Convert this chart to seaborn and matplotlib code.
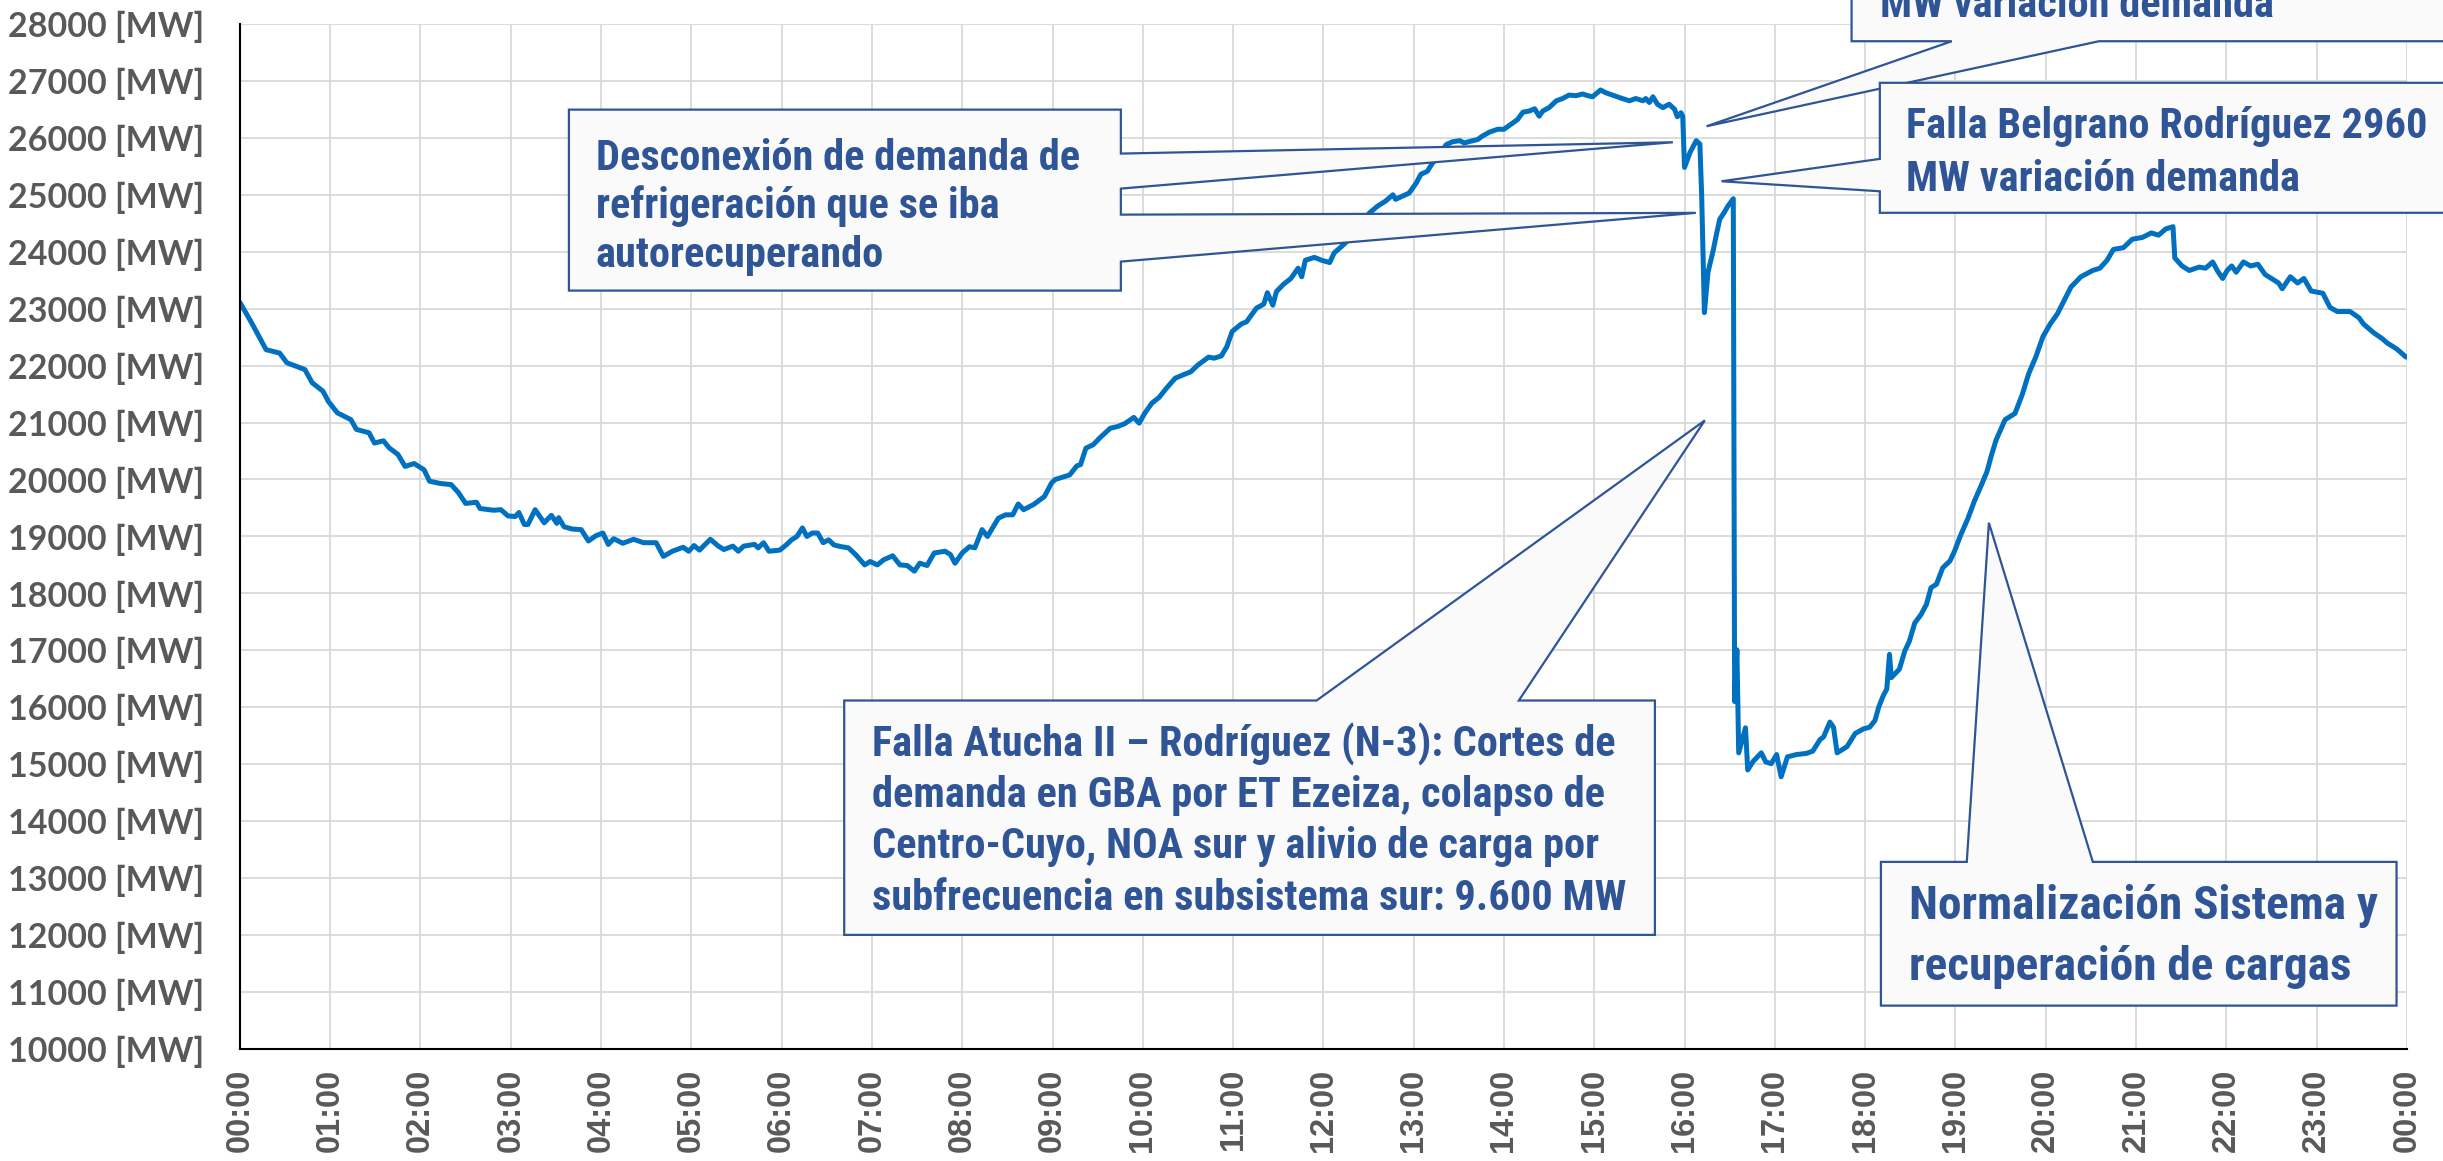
import matplotlib
matplotlib.use("Agg")
import matplotlib.pyplot as plt
import seaborn as sns
from matplotlib.patches import Polygon
from matplotlib import font_manager

# demand curve (hour of day, MW)
hours = [
    0.00, 0.13, 0.29, 0.44, 0.52, 0.72, 0.80, 0.92, 0.98, 1.08, 1.23, 1.29, 1.43, 1.49, 1.59, 1.65,
    1.75, 1.83, 1.93, 2.04, 2.10, 2.22, 2.34, 2.42, 2.50, 2.62, 2.66, 2.81, 2.89, 2.97, 3.05, 3.09,
    3.15, 3.19, 3.27, 3.37, 3.45, 3.51, 3.53, 3.59, 3.68, 3.78, 3.86, 3.94, 4.02, 4.08, 4.14, 4.24,
    4.36, 4.47, 4.61, 4.69, 4.79, 4.91, 4.97, 5.03, 5.09, 5.21, 5.30, 5.36, 5.46, 5.52, 5.58, 5.70,
    5.74, 5.80, 5.86, 5.98, 6.05, 6.11, 6.17, 6.23, 6.28, 6.34, 6.40, 6.46, 6.52, 6.58, 6.66, 6.74,
    6.82, 6.92, 6.98, 7.06, 7.13, 7.23, 7.31, 7.39, 7.47, 7.53, 7.61, 7.69, 7.81, 7.87, 7.92, 8.00,
    8.08, 8.14, 8.22, 8.28, 8.40, 8.48, 8.56, 8.62, 8.68, 8.79, 8.91, 8.99, 9.03, 9.11, 9.19, 9.27,
    9.31, 9.37, 9.45, 9.53, 9.64, 9.72, 9.80, 9.90, 9.96, 10.02, 10.10, 10.18, 10.26, 10.36, 10.45,
    10.53, 10.61, 10.73, 10.79, 10.87, 10.93, 10.99, 11.09, 11.15, 11.19, 11.26, 11.34, 11.38, 11.44,
    11.48, 11.56, 11.64, 11.72, 11.76, 11.80, 11.90, 11.98, 12.07, 12.12, 12.20, 12.32, 12.51, 12.60,
    12.69, 12.77, 12.80, 12.95, 13.03, 13.08, 13.15, 13.21, 13.28, 13.36, 13.43, 13.51, 13.56, 13.63,
    13.71, 13.76, 13.84, 13.93, 14.00, 14.08, 14.15, 14.21, 14.28, 14.34, 14.39, 14.43, 14.50, 14.58,
    14.65, 14.72, 14.80, 14.87, 14.93, 14.98, 15.07, 15.13, 15.22, 15.31, 15.39, 15.46, 15.54, 15.57,
    15.61, 15.65, 15.70, 15.76, 15.83, 15.89, 15.92, 15.96, 15.98, 16.00, 16.06, 16.13, 16.17, 16.19,
    16.22, 16.26, 16.32, 16.35, 16.39, 16.44, 16.48, 16.54, 16.555, 16.58, 16.60, 16.675, 16.70, 16.76,
    16.85, 16.90, 16.96, 17.02, 17.07, 17.14, 17.24, 17.35, 17.42, 17.50, 17.54, 17.61, 17.65, 17.69,
    17.80, 17.89, 17.98, 18.05, 18.11, 18.15, 18.20, 18.24, 18.27, 18.29, 18.38, 18.44, 18.49, 18.55,
    18.62, 18.68, 18.73, 18.79, 18.86, 18.94, 18.99, 19.06, 19.14, 19.21, 19.29, 19.35, 19.40, 19.45,
    19.55, 19.66, 19.74, 19.81, 19.89, 19.97, 20.05, 20.13, 20.21, 20.28, 20.39, 20.52, 20.60, 20.68,
    20.75, 20.86, 20.96, 21.07, 21.17, 21.25, 21.33, 21.41, 21.43, 21.51, 21.59, 21.70, 21.77, 21.85,
    21.90, 21.96, 22.01, 22.06, 22.11, 22.19, 22.27, 22.35, 22.43, 22.50, 22.58, 22.62, 22.71, 22.79,
    22.86, 22.94, 23.07, 23.15, 23.23, 23.37, 23.47, 23.52, 23.63, 23.73, 23.78, 23.89, 23.99,
]
demand_mw = [
    23110, 22750, 22280, 22220, 22050, 21930, 21700, 21550, 21370, 21170, 21050, 20880, 20820, 20640, 20680, 20560,
    20440, 20230, 20280, 20170, 19970, 19930, 19910, 19770, 19580, 19600, 19490, 19460, 19470, 19360, 19350, 19420,
    19210, 19210, 19470, 19240, 19370, 19230, 19330, 19170, 19130, 19120, 18920, 19010, 19060, 18860, 18960, 18880,
    18950, 18890, 18890, 18650, 18740, 18810, 18740, 18840, 18760, 18950, 18830, 18770, 18830, 18740, 18830, 18860,
    18800, 18890, 18740, 18760, 18850, 18940, 19000, 19150, 19000, 19060, 19060, 18890, 18940, 18850, 18820, 18800,
    18680, 18500, 18560, 18500, 18590, 18660, 18500, 18490, 18390, 18530, 18490, 18710, 18740, 18680, 18530, 18710,
    18820, 18800, 19120, 19000, 19320, 19380, 19380, 19570, 19470, 19560, 19700, 19940, 20000, 20040, 20080, 20240,
    20260, 20550, 20610, 20740, 20900, 20930, 20980, 21090, 20990, 21160, 21340, 21440, 21600, 21780, 21840,
    21890, 22010, 22150, 22130, 22170, 22330, 22600, 22730, 22770, 22860, 23010, 23080, 23280, 23060,
    23300, 23430, 23530, 23710, 23560, 23850, 23900, 23850, 23810, 23980, 24090, 24270, 24680, 24800,
    24890, 25000, 24920, 25030, 25210, 25360, 25410, 25560, 25680, 25880, 25930, 25950, 25910, 25940,
    25970, 26030, 26100, 26150, 26150, 26240, 26320, 26450, 26470, 26510, 26380, 26470, 26530, 26650,
    26690, 26750, 26740, 26770, 26740, 26720, 26840, 26790, 26740, 26690, 26650, 26690, 26650, 26690,
    26620, 26720, 26590, 26530, 26590, 26500, 26370, 26440, 26380, 25480, 25740, 25950, 25890, 24980,
    22930, 23640, 24040, 24280, 24570, 24690, 24800, 24930, 16100, 17010, 15200, 15640, 14900, 15050,
    15200, 15040, 15010, 15170, 14780, 15130, 15170, 15190, 15230, 15430, 15480, 15740, 15650, 15200,
    15310, 15540, 15620, 15650, 15770, 16000, 16200, 16320, 16930, 16520, 16670, 16990, 17160, 17480,
    17630, 17810, 18100, 18160, 18450, 18570, 18740, 19030, 19320, 19620, 19910, 20140, 20430, 20690,
    21050, 21160, 21490, 21850, 22150, 22510, 22730, 22910, 23160, 23380, 23560, 23670, 23710, 23850,
    24040, 24070, 24220, 24250, 24330, 24290, 24400, 24440, 23890, 23750, 23670, 23730, 23710, 23820,
    23670, 23530, 23670, 23750, 23640, 23820, 23750, 23780, 23600, 23530, 23450, 23350, 23560, 23450,
    23530, 23310, 23270, 23020, 22950, 22950, 22840, 22730, 22580, 22470, 22400, 22290, 22150,
]

y_ticks = list(range(10000, 28001, 1000))
y_labels = [f"{v} [MW]" for v in y_ticks]
x_ticks = list(range(0, 25))
x_labels = [f"{h % 24:02d}:00" for h in x_ticks]

# callout text
txt_top = ["MW variación demanda"]
txt_belgrano = ["Falla Belgrano Rodríguez 2960", "MW variación demanda"]
txt_refrig = ["Desconexión de demanda de", "refrigeración que se iba", "autorecuperando"]
txt_atucha = ["Falla Atucha II – Rodríguez (N-3): Cortes de",
              "demanda en GBA por ET Ezeiza, colapso de",
              "Centro-Cuyo, NOA sur y alivio de carga por",
              "subfrecuencia en subsistema sur: 9.600 MW"]
txt_norm = ["Normalización Sistema y", "recuperación de cargas"]

LINE_C = "#0070C0"
BOX_EDGE = "#2F5597"
BOX_FILL = "#FAFAFA"
TICK_C = "#595959"

# a condensed face if the machine has one, otherwise a smaller regular one
names = {f.name for f in font_manager.fontManager.ttflist}
narrow = None
for cand in ["Liberation Sans Narrow", "Roboto Condensed", "Noto Sans Condensed",
             "Open Sans Condensed", "DejaVu Sans Condensed"]:
    if cand in names:
        narrow = cand
        break
if narrow:
    call_font = [narrow, "DejaVu Sans"]
    scale = 1.0
else:
    call_font = ["Liberation Sans", "DejaVu Sans"]
    scale = 0.83

sns.set_style("white")
fig = plt.figure(figsize=(24.43, 11.61), dpi=100)
ax = fig.add_axes([0.0982, 0.0965, 0.8870, 0.8829])

sns.lineplot(x=hours, y=demand_mw, ax=ax, color=LINE_C, linewidth=3.6,
             sort=False, estimator=None, zorder=2)

ax.set_xlim(0, 24)
ax.set_ylim(10000, 28000)
ax.set_xticks(x_ticks)
ax.set_xticklabels(x_labels, rotation=90, fontsize=23.5, fontweight="bold",
                   color=TICK_C, family=["Liberation Sans", "DejaVu Sans"])
ax.set_yticks(y_ticks)
ax.set_yticklabels(y_labels, fontsize=24.5, fontweight="bold",
                   color=TICK_C, family=["Lato", "DejaVu Sans"])
ax.tick_params(axis="both", direction="inout", length=17, width=1.5, color="black")
ax.tick_params(axis="y", pad=17)
ax.tick_params(axis="x", pad=6)
ax.grid(True, color="#d9d9d9", linewidth=1.3)
ax.set_axisbelow(True)
for s in ["top", "right"]:
    ax.spines[s].set_visible(False)
for s in ["left", "bottom"]:
    ax.spines[s].set_color("black")
    ax.spines[s].set_linewidth(1.5)
ax.set_xlabel("")
ax.set_ylabel("")


def callout(verts, lines, tx, baselines, size):
    ax.add_patch(Polygon(verts, closed=True, facecolor=BOX_FILL, edgecolor=BOX_EDGE,
                         linewidth=1.6, zorder=3, clip_on=False))
    for line, by in zip(lines, baselines):
        ax.text(tx, by, line, color=BOX_EDGE, fontsize=size * scale, fontweight="bold",
                family=call_font, ha="left", va="baseline", zorder=4, clip_on=False)


# top callout (mostly cut by the figure edge)
callout([(17.85, 30200), (24.8, 30200), (24.8, 27696), (20.59, 27696),
         (16.244, 26203), (18.96, 27696), (17.85, 27696)],
        txt_top, 18.163, [28128], 30.5)

# Belgrano callout, wedge on the left side
callout([(18.163, 26966), (24.8, 26966), (24.8, 24683), (18.163, 24683),
         (18.163, 25061), (16.41, 25237), (18.163, 25630)],
        txt_belgrano, 18.458, [26002, 25071], 30.5)

# refrigeration callout, two wedges on the right side
callout([(3.644, 26495), (9.757, 26495), (9.757, 25723), (15.871, 25922),
         (9.757, 25108), (9.757, 24651), (16.125, 24682), (9.757, 23826),
         (9.757, 23317), (3.644, 23317)],
        txt_refrig, 3.943, [25440, 24597, 23736], 30.5)

# Atucha callout, wedge on top
callout([(6.693, 16119), (11.925, 16119), (16.225, 21038), (14.165, 16119),
         (15.672, 16119), (15.672, 12003), (6.693, 12003)],
        txt_atucha, 7.0, [15129, 14251, 13355, 12442], 30.5)

# normalisation callout, wedge on top
callout([(18.175, 13285), (19.126, 13285), (19.371, 19240), (20.522, 13285),
         (23.886, 13285), (23.886, 10761), (18.175, 10761)],
        txt_norm, 18.485, [12284, 11212], 34)

fig.savefig("out.png", dpi=100)
